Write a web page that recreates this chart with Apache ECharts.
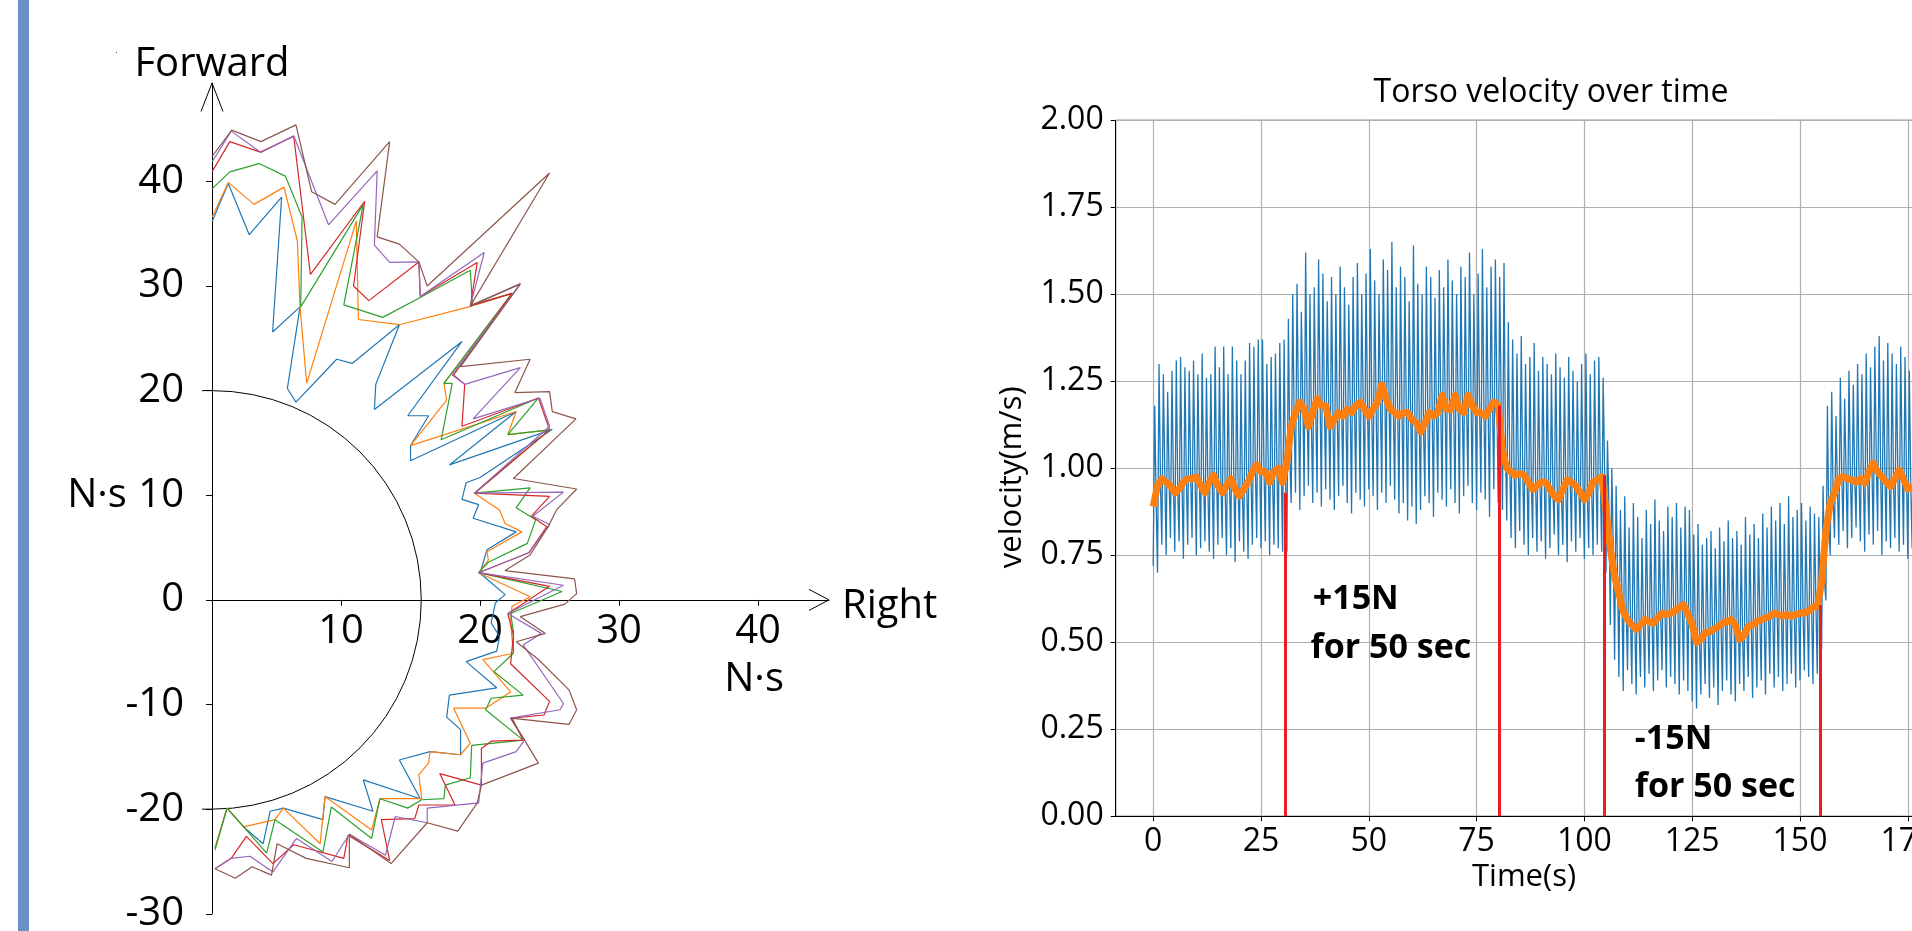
<!DOCTYPE html>
<html><head><meta charset="utf-8">
<script src="https://cdn.jsdelivr.net/npm/echarts@6/dist/echarts.min.js"></script>
<style>html,body{margin:0;padding:0;background:#fff;overflow:hidden}#c{width:1912px;height:931px}</style>
</head><body><div id="c"></div>
<script>
// ===== Left chart: impulse outlines (N·s), x = Right, y = Forward =====
const blueLine = [[0.74,36.2],[1.89,39.8],[3.40,34.9],[5.73,38.5],[5.08,25.6],[7.05,28.0],[6.14,20.2],[6.76,18.9],[9.69,23.0],[10.8,22.6],[14.2,26.3],[12.5,20.6],[12.4,18.2],[18.7,24.7],[14.8,17.6],[16.3,17.6],[15.0,14.75],[15.0,13.3],[22.6,18.0],[17.8,12.9],[25.2,16.3],[20.0,11.7],[19.0,11.2],[18.7,9.6],[19.9,9.1],[19.5,7.8],[22.6,6.5],[20.5,4.8],[20.0,2.55],[21.8,0.5],[21.1,-0.3],[20.8,-2.2],[21.4,-3.5],[21.2,-4.9],[19.0,-5.9],[21.2,-8.4],[17.8,-9.1],[17.6,-11.2],[18.6,-12.4],[18.6,-14.8],[16.4,-14.5],[14.2,-15.3],[15.7,-19.0],[11.6,-17.2],[12.3,-20.2],[8.85,-18.8],[8.7,-21.0],[5.85,-19.9],[4.9,-20.2],[4.4,-23.3],[3.0,-21.7],[1.8,-19.9],[0.94,-23.7]];
const orangeLine = [[0.74,36.6],[1.89,39.9],[3.74,37.8],[5.9,39.45],[6.86,34.3],[7.05,28.0],[7.53,20.7],[11.1,36.2],[11.25,26.8],[14.2,26.3],[19.2,28.0],[22.3,29.3],[17.4,20.7],[17.6,19.1],[15.0,14.75],[22.6,18.0],[22.0,15.8],[25.0,16.25],[19.6,10.2],[21.4,8.6],[21.8,7.3],[23.0,6.5],[20.5,4.6],[20.6,3.8],[19.9,2.6],[23.6,0.3],[22.3,-0.6],[22.2,-2.2],[22.4,-5.1],[20.2,-5.7],[22.2,-8.8],[20.4,-10.35],[18.1,-10.35],[19.3,-13.7],[18.6,-14.8],[16.4,-14.5],[16.3,-15.6],[15.6,-16.7],[15.8,-19.0],[12.8,-19.0],[12.2,-22.0],[8.85,-18.8],[8.5,-23.3],[5.85,-19.9],[5.25,-21.0],[3.0,-21.7],[1.8,-19.9],[0.94,-23.7]];
const greenLine = [[0.74,39.3],[2.0,40.9],[4.1,41.7],[6.0,40.5],[7.2,36.6],[7.1,28.0],[11.6,37.8],[10.2,28.2],[13.0,27.0],[15.7,28.9],[19.3,31.5],[19.45,28.2],[22.3,29.3],[17.4,20.7],[18.0,20.7],[17.2,15.3],[24.2,19.3],[22.0,15.8],[25.0,16.25],[19.6,10.2],[23.6,10.7],[22.6,8.8],[24.0,7.65],[23.4,5.4],[20.6,3.6],[19.9,2.6],[25.9,0.8],[22.2,-1.3],[22.4,-3.0],[22.4,-5.1],[21.0,-6.85],[23.1,-9.1],[20.8,-9.4],[20.4,-10.5],[23.1,-13.4],[19.4,-13.9],[19.3,-17.0],[17.5,-17.7],[17.4,-19.0],[15.8,-19.1],[14.8,-19.9],[12.8,-19.0],[12.2,-22.8],[9.3,-19.8],[8.7,-24.1],[5.25,-21.0],[4.65,-24.2],[3.0,-21.7],[1.8,-19.9],[0.94,-23.9]];
const redLine = [[0.74,40.95],[2.0,43.8],[4.2,42.8],[6.6,44.3],[7.8,31.1],[11.7,38.1],[10.9,30.0],[12.0,28.6],[15.6,32.3],[15.7,29.0],[19.8,32.25],[19.3,28.1],[22.3,29.3],[18.1,21.5],[18.9,20.6],[18.7,16.6],[24.2,19.3],[25.0,16.25],[19.6,10.2],[25.0,9.9],[23.7,8.0],[24.8,7.0],[23.5,4.5],[19.9,2.6],[25.0,1.3],[22.0,-1.3],[22.4,-3.35],[22.2,-6.1],[25.0,-9.7],[24.6,-11.0],[22.3,-11.3],[23.1,-13.4],[20.8,-13.5],[20.1,-14.2],[20.1,-17.7],[17.1,-16.6],[18.2,-19.6],[15.6,-19.6],[15.3,-20.9],[12.9,-21.0],[13.5,-24.9],[10.5,-22.5],[10.2,-24.7],[6.6,-23.4],[5.1,-25.2],[3.2,-22.6],[2.1,-24.7],[0.94,-25.7]];
const purpleLine = [[0.74,41.9],[2.1,44.8],[4.24,42.75],[6.6,44.35],[9.1,35.85],[12.6,41.0],[12.4,33.9],[13.5,32.25],[15.6,32.3],[15.7,29.0],[20.3,33.2],[19.3,28.1],[22.9,30.2],[18.0,21.5],[18.9,20.6],[22.9,22.2],[19.5,17.3],[24.3,19.3],[25.0,16.6],[19.6,10.2],[26.0,10.3],[23.8,8.0],[25.0,7.2],[23.5,4.5],[19.9,2.6],[26.0,1.4],[22.0,-1.3],[24.4,-3.2],[23.1,-4.3],[26.0,-9.9],[25.75,-10.5],[22.2,-11.3],[23.2,-13.4],[22.6,-14.5],[20.2,-15.6],[19.9,-19.4],[16.2,-19.9],[16.2,-21.3],[13.9,-20.7],[13.2,-24.4],[10.6,-22.4],[9.35,-25.0],[6.8,-22.8],[5.1,-26.0],[3.45,-24.5],[2.1,-24.7],[0.94,-25.7]];
const brownLine = [[0.74,42.4],[2.14,44.9],[4.24,43.8],[6.76,45.4],[7.89,39.0],[9.57,37.8],[13.5,43.8],[12.6,34.7],[14.2,34.0],[15.6,32.3],[16.2,30.0],[25.0,40.8],[19.3,28.1],[22.9,30.2],[18.6,22.3],[23.6,23.0],[22.5,19.8],[25.0,19.9],[25.2,18.0],[26.9,17.3],[22.4,11.6],[26.95,10.6],[25.5,8.6],[24.9,7.0],[23.6,4.3],[21.8,2.8],[26.8,2.0],[26.95,0.6],[26.1,-0.4],[22.9,-1.6],[24.7,-3.2],[22.6,-4.0],[24.2,-5.7],[26.4,-8.6],[26.95,-10.5],[26.4,-11.9],[22.2,-11.3],[23.2,-13.4],[24.2,-15.6],[20.1,-17.7],[19.8,-19.4],[18.4,-22.1],[16.2,-21.3],[13.6,-25.2],[10.6,-22.4],[10.6,-25.6],[7.5,-24.7],[5.4,-23.3],[5.0,-26.3],[3.6,-25.5],[2.4,-26.6],[0.94,-25.7]];
const leftXTicks = [10, 20, 30, 40];
const leftYTicks = [-30, -20, -10, 0, 10, 20, 30, 40];

// ===== Right chart: torso velocity over time =====
// per gait cycle (one per second, t = 0..176): peak and trough of raw velocity
const velPeak = [
 1.18,1.30,1.27,1.22,1.28,1.31,1.32,1.29,1.28,1.31,
 1.27,1.33,1.26,1.27,1.35,1.29,1.35,1.27,1.35,1.31,
 1.27,1.31,1.36,1.35,1.37,1.37,1.30,1.32,1.33,1.36,
 1.37,1.43,1.50,1.53,1.45,1.62,1.50,1.52,1.60,1.56,
 1.48,1.55,1.50,1.58,1.52,1.47,1.55,1.59,1.50,1.56,
 1.63,1.54,1.50,1.60,1.57,1.65,1.52,1.58,1.55,1.48,
 1.64,1.53,1.50,1.58,1.55,1.49,1.57,1.52,1.60,1.54,
 1.50,1.58,1.55,1.62,1.50,1.56,1.63,1.52,1.58,1.60,
 1.55,1.59,1.42,1.37,1.33,1.38,1.30,1.32,1.36,1.28,
 1.32,1.30,1.27,1.33,1.29,1.26,1.32,1.28,1.25,1.30,
 1.33,1.27,1.31,1.32,1.26,1.08,1.00,0.95,0.88,0.92,
 0.83,0.90,0.86,0.80,0.88,0.84,0.91,0.85,0.82,0.89,
 0.86,0.90,0.83,0.89,0.88,0.81,0.84,0.78,0.80,0.82,
 0.77,0.83,0.79,0.85,0.80,0.82,0.78,0.86,0.81,0.84,
 0.80,0.87,0.83,0.89,0.85,0.90,0.84,0.92,0.86,0.88,
 0.90,0.85,0.89,0.87,0.86,0.95,1.18,1.22,1.15,1.26,
 1.20,1.28,1.24,1.30,1.27,1.33,1.29,1.35,1.38,1.31,
 1.36,1.33,1.30,1.35,1.32,1.28,1.30];
const velTrough = [
 0.72,0.70,0.78,0.75,0.80,0.76,0.79,0.74,0.78,0.80,
 0.75,0.77,0.79,0.76,0.74,0.78,0.80,0.75,0.77,0.73,
 0.79,0.76,0.74,0.78,0.80,0.77,0.79,0.75,0.78,0.77,
 0.76,0.76,0.90,0.93,0.88,0.92,0.95,0.90,0.93,0.89,
 0.94,0.91,0.88,0.92,0.95,0.90,0.87,0.93,0.91,0.89,
 0.94,0.92,0.88,0.93,0.90,0.95,0.91,0.87,0.90,0.85,
 0.89,0.84,0.88,0.92,0.90,0.86,0.93,0.91,0.89,0.94,
 0.90,0.87,0.92,0.95,0.90,0.88,0.93,0.91,0.86,0.94,
 0.90,0.88,0.85,0.80,0.77,0.82,0.78,0.75,0.80,0.76,
 0.79,0.74,0.77,0.81,0.75,0.78,0.73,0.79,0.76,0.80,
 0.74,0.77,0.75,0.78,0.76,0.70,0.55,0.45,0.40,0.36,
 0.42,0.38,0.35,0.40,0.37,0.41,0.36,0.39,0.42,0.37,
 0.40,0.38,0.35,0.39,0.36,0.33,0.31,0.35,0.38,0.34,
 0.37,0.32,0.36,0.39,0.35,0.33,0.38,0.36,0.40,0.34,
 0.37,0.39,0.35,0.41,0.37,0.40,0.36,0.38,0.41,0.37,
 0.39,0.42,0.40,0.38,0.41,0.48,0.62,0.75,0.80,0.78,
 0.82,0.77,0.80,0.83,0.79,0.76,0.81,0.78,0.82,0.75,
 0.79,0.77,0.80,0.76,0.78,0.74,0.77];
// smoothed velocity (orange), one value per second
const velSmooth = [
 0.89,0.95,0.97,0.96,0.95,0.93,0.94,0.96,0.97,0.97,
 0.975,0.95,0.93,0.96,0.98,0.95,0.93,0.95,0.97,0.94,
 0.92,0.94,0.96,0.99,1.01,0.99,0.99,0.96,0.99,1.0,
 0.96,1.02,1.12,1.16,1.19,1.17,1.12,1.16,1.2,1.18,
 1.18,1.12,1.14,1.16,1.15,1.17,1.16,1.18,1.19,1.17,
 1.15,1.17,1.19,1.24,1.2,1.17,1.16,1.15,1.16,1.16,
 1.14,1.13,1.105,1.13,1.16,1.15,1.16,1.21,1.17,1.17,
 1.21,1.17,1.16,1.21,1.18,1.16,1.16,1.15,1.17,1.19,
 1.18,1.05,1.0,0.99,0.98,0.985,0.98,0.96,0.94,0.95,
 0.96,0.96,0.94,0.92,0.91,0.94,0.967,0.96,0.95,0.93,
 0.91,0.93,0.96,0.967,0.976,0.88,0.77,0.69,0.64,0.59,
 0.565,0.55,0.537,0.55,0.565,0.56,0.555,0.57,0.584,0.58,
 0.584,0.59,0.6,0.608,0.58,0.55,0.5,0.51,0.527,0.53,
 0.537,0.545,0.555,0.56,0.565,0.55,0.508,0.52,0.546,0.55,
 0.56,0.565,0.57,0.575,0.584,0.58,0.575,0.58,0.575,0.58,
 0.584,0.584,0.59,0.6,0.603,0.67,0.82,0.9,0.93,0.97,
 0.976,0.97,0.967,0.96,0.97,0.958,0.99,1.015,0.99,0.976,
 0.96,0.948,0.97,0.995,0.97,0.94,0.95];
const pushTimes = [30.7, 80.2, 104.5, 154.8];
const pushTops = [0.93, 1.18, 0.98, 0.607];
const rightXTicks = [0, 25, 50, 75, 100, 125, 150, 175];
const notes = [
  {text: '+15N', t: 37.0, v: 0.624},
  {text: 'for 50 sec', t: 36.5, v: 0.483},
  {text: '-15N', t: 111.7, v: 0.222},
  {text: 'for 50 sec', t: 111.7, v: 0.083}
];

// ---------------------------------------------------------------
const FONT = '"Open Sans", "Noto Sans", sans-serif';
const TAB = ['#1f77b4', '#ff7f0e', '#2ca02c', '#d62728', '#9467bd', '#8c564b'];
const leftLines = [blueLine, orangeLine, greenLine, redLine, purpleLine, brownLine];

// left plot geometry (pixels) and extents
const LG = {left: 212, top: 83, width: 617, height: 830.8};
const LX = [0.72, 45.1], LY = [-30, 49.4];
const xAxisShift = -(0 - LY[0]) / (LY[1] - LY[0]) * LG.height; // place x axis at y = 0

// cycle samples: trough -> peak -> smoothed level
const cyclePhase = [0, 0.35, 0.7];
const rawData = [];
const n = Math.min(velPeak.length, velTrough.length, velSmooth.length);
for (let i = 0; i < n; i++) {
  rawData.push([i + cyclePhase[0], velTrough[i]]);
  rawData.push([i + cyclePhase[1], velPeak[i]]);
  rawData.push([i + cyclePhase[2], velSmooth[i]]);
}
const smoothData = velSmooth.map((v, i) => [i, v]);

const series = leftLines.map((pts, i) => ({
  type: 'line', xAxisIndex: 0, yAxisIndex: 0, data: pts,
  symbol: 'none', showSymbol: false, clip: false, animation: false,
  lineStyle: {color: TAB[i], width: 1.2}, z: 3
}));
series.push({
  type: 'line', xAxisIndex: 1, yAxisIndex: 1, data: rawData,
  symbol: 'none', showSymbol: false, animation: false,
  lineStyle: {color: '#1f77b4', width: 1.3}, z: 2
});
series.push({
  type: 'line', xAxisIndex: 1, yAxisIndex: 1, data: smoothData,
  symbol: 'none', showSymbol: false, animation: false,
  lineStyle: {color: '#ff7f0e', width: 7, join: 'round'}, z: 3,
  markLine: {
    silent: true, symbol: ['none', 'none'], animation: false,
    label: {show: false},
    lineStyle: {color: '#ec1c24', width: 3, type: 'solid'},
    data: pushTimes.map((t, i) => [{coord: [t, 0]}, {coord: [t, pushTops[i]]}])
  }
});

const axisText = {color: '#000', fontFamily: FONT};
const option = {
  animation: false,
  textStyle: {fontFamily: FONT},
  grid: [
    Object.assign({outerBoundsMode: 'none', containLabel: false}, LG),
    {left: 1115.7, top: 120.3, width: 870.6, height: 696, show: true, borderColor: '#000', borderWidth: 1, outerBoundsMode: 'none', containLabel: false}
  ],
  xAxis: [
    {type: 'value', gridIndex: 0, min: LX[0], max: LX[1], position: 'bottom', offset: xAxisShift,
     axisLine: {show: true, onZero: false, lineStyle: {color: '#000', width: 1}},
     axisTick: {show: true, length: 6, customValues: leftXTicks, lineStyle: {color: '#000'}},
     axisLabel: Object.assign({show: true, fontSize: 40, margin: 12, customValues: leftXTicks}, axisText),
     splitLine: {show: false}},
    {type: 'value', gridIndex: 1, min: -8.7, max: 193.2, minInterval: 25, maxInterval: 25,
     axisLine: {show: true, onZero: false, lineStyle: {color: '#000', width: 1}},
     axisTick: {show: true, length: 5, customValues: rightXTicks, lineStyle: {color: '#000'}},
     axisLabel: Object.assign({show: true, fontSize: 32, margin: 10, customValues: rightXTicks}, axisText),
     splitLine: {show: true, lineStyle: {color: '#b0b0b0', width: 1.2}}}
  ],
  yAxis: [
    {type: 'value', gridIndex: 0, min: LY[0], max: LY[1],
     axisLine: {show: true, onZero: false, lineStyle: {color: '#000', width: 1}},
     axisTick: {show: true, length: 6, customValues: leftYTicks, lineStyle: {color: '#000'}},
     axisLabel: Object.assign({show: true, fontSize: 40, margin: 28, customValues: leftYTicks}, axisText),
     splitLine: {show: false}},
    {type: 'value', gridIndex: 1, min: 0, max: 2, interval: 0.25,
     axisLine: {show: true, onZero: false, lineStyle: {color: '#000', width: 1}},
     axisTick: {show: true, length: 5, lineStyle: {color: '#000'}},
     axisLabel: Object.assign({show: true, fontSize: 32, margin: 12, formatter: v => v.toFixed(2)}, axisText),
     splitLine: {show: true, lineStyle: {color: '#b0b0b0', width: 1.2}}}
  ],
  series: series
};

const chart = echarts.init(document.getElementById('c'), null, {renderer: 'canvas', width: 1912, height: 931});
chart.setOption(option);

const L = p => chart.convertToPixel({seriesIndex: 0}, p);
const R = p => chart.convertToPixel({seriesIndex: 6}, p);

const o0 = L([LX[0], 0]);
const yTip = L([LX[0], LY[1]]);
const xTip = L([LX[1], 0]);
const y20 = L([LX[0], 20])[1], yM20 = L([LX[0], -20])[1];
const r20 = o0[1] - y20;
const tx = (text, x, y, size, opts) => Object.assign({
  type: 'text', x: x, y: y, silent: true, z: 10,
  style: Object.assign({text: text, font: size + 'px ' + FONT, fill: '#000', align: 'center', verticalAlign: 'middle'}, opts || {})
});
const seg = (x1, y1, x2, y2) => ({type: 'line', shape: {x1: x1, y1: y1, x2: x2, y2: y2}, style: {stroke: '#000', lineWidth: 1}, silent: true});

const graphics = [
  {type: 'rect', shape: {x: 18, y: 0, width: 11, height: 931}, style: {fill: '#6990c5'}, silent: true},
  {type: 'rect', shape: {x: 116, y: 52, width: 1, height: 1}, style: {fill: '#555'}, silent: true},
  {type: 'arc', shape: {cx: o0[0], cy: o0[1], r: r20, startAngle: -Math.PI / 2, endAngle: Math.PI / 2, clockwise: true},
   style: {stroke: '#000', fill: null, lineWidth: 1}, silent: true, z: 1},
  seg(o0[0] - 10, y20, o0[0], y20),
  seg(o0[0] - 10, yM20, o0[0], yM20),
  {type: 'polyline', shape: {points: [[yTip[0] - 11, yTip[1] + 28.5], [yTip[0], yTip[1]], [yTip[0] + 11, yTip[1] + 28.5]]},
   style: {stroke: '#000', fill: null, lineWidth: 1}, silent: true},
  {type: 'polyline', shape: {points: [[xTip[0] - 20, xTip[1] - 10.5], [xTip[0], xTip[1]], [xTip[0] - 20, xTip[1] + 10.5]]},
   style: {stroke: '#000', fill: null, lineWidth: 1}, silent: true},
  tx('Forward', yTip[0], yTip[1] - 18, 40),
  tx('Right', xTip[0] + 13, xTip[1] + 7, 40, {align: 'left'}),
  tx('N·s', L([40, 0])[0] - 4, o0[1] + 80, 40),
  tx('N·s', o0[0] - 115, L([LX[0], 10])[1], 40)
];

// right chart texts
const gTop = R([0, 2])[1];
const gLeft = 1115.7, gRight = 1115.7 + 870.6;
graphics.push(tx('Torso velocity over time', (gLeft + gRight) / 2, gTop - 27, 32));
const tl = R([86, 0]);
graphics.push(tx('Time(s)', tl[0], tl[1] + 61, 31));
const vl = R([-8.7, 1.0]);
graphics.push(Object.assign(tx('velocity(m/s)', vl[0] - 104, vl[1] + 9, 31), {rotation: Math.PI / 2}));
notes.forEach(nt => {
  const p = R([nt.t, nt.v]);
  graphics.push(tx(nt.text, p[0], p[1], 34, {align: 'left', font: 'bold 34px ' + FONT}));
});

chart.setOption({graphic: graphics});
</script>
</body></html>
